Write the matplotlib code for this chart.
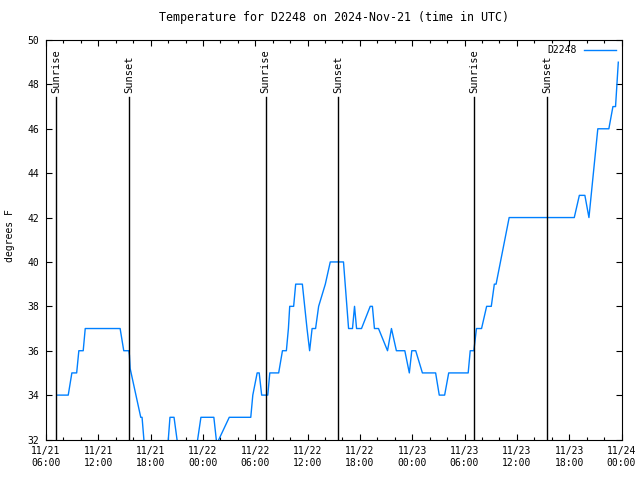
import pandas as pd
import matplotlib
matplotlib.use("Agg")
import matplotlib.pyplot as plt
import matplotlib.dates as mdates

plt.rcParams['font.family'] = ['DejaVu Sans Mono']
plt.rcParams['font.size'] = 7

# temperature readings (UTC)
times = ["11-21 07:15", "11-21 08:33", "11-21 08:58", "11-21 09:31", "11-21 09:46",
         "11-21 10:16", "11-21 10:30", "11-21 14:30", "11-21 14:55", "11-21 15:30",
         "11-21 15:34", "11-21 15:39", "11-21 16:52", "11-21 17:01", "11-21 17:26",
         "11-21 19:50", "11-21 20:13", "11-21 20:41", "11-21 21:22", "11-21 23:01",
         "11-21 23:46", "11-22 01:15", "11-22 01:35", "11-22 03:01", "11-22 05:29",
         "11-22 05:43", "11-22 06:13", "11-22 06:27", "11-22 06:44", "11-22 07:26",
         "11-22 07:40", "11-22 08:41", "11-22 09:07", "11-22 09:34", "11-22 09:48",
         "11-22 09:57", "11-22 10:24", "11-22 10:38", "11-22 11:24", "11-22 11:56",
         "11-22 12:14", "11-22 12:31", "11-22 12:55", "11-22 13:16", "11-22 14:02",
         "11-22 14:36", "11-22 16:07", "11-22 16:42", "11-22 17:09", "11-22 17:23",
         "11-22 17:37", "11-22 18:11", "11-22 19:11", "11-22 19:26", "11-22 19:40",
         "11-22 20:08", "11-22 21:10", "11-22 21:37", "11-22 22:11", "11-22 23:09",
         "11-22 23:40", "11-22 23:57", "11-23 00:24", "11-23 01:10", "11-23 02:41",
         "11-23 03:06", "11-23 03:43", "11-23 04:11", "11-23 06:25", "11-23 06:39",
         "11-23 07:04", "11-23 07:22", "11-23 07:57", "11-23 08:32", "11-23 09:04",
         "11-23 09:25", "11-23 09:37", "11-23 11:07", "11-23 18:35", "11-23 19:10",
         "11-23 19:48", "11-23 20:16", "11-23 21:17", "11-23 22:33", "11-23 23:01",
         "11-23 23:19", "11-23 23:38"]
temps = [34, 34, 35, 35, 36,
         36, 37, 37, 36, 36,
         35.8, 35.2, 33, 33, 31,
         31, 33, 33, 31, 31,
         33, 33, 31.8, 33, 33,
         34, 35, 35, 34, 34,
         35, 35, 36, 36, 37,
         38, 38, 39, 39, 37,
         36, 37, 37, 38, 39,
         40, 40, 37, 37, 38,
         37, 37, 38, 38, 37,
         37, 36, 37, 36, 36,
         35, 36, 36, 35, 35,
         34, 34, 35, 35, 36,
         36, 37, 37, 38, 38,
         39, 39, 42, 42, 43,
         43, 42, 46, 46, 47,
         47, 49]

sun_times = ["11-21 07:11", "11-21 15:33", "11-22 07:12", "11-22 15:32",
             "11-23 07:08", "11-23 15:30"]
sun_labels = ["Sunrise", "Sunset", "Sunrise", "Sunset", "Sunrise", "Sunset"]

t = pd.to_datetime(["2024-" + s for s in times])
st = pd.to_datetime(["2024-" + s for s in sun_times])

fig = plt.figure(figsize=(6.4, 4.8), dpi=100)
ax = fig.add_axes([46 / 640, 1 - 439.5 / 480, 575.5 / 640, 399.5 / 480])

ax.plot(t, temps, color='#0080ff', lw=1.0, label='D2248')

for x, lab in zip(st, sun_labels):
    ax.plot([x, x], [32, 47.43], color='black', lw=1.0)
    ax.text(x, 47.6, lab, rotation=90, ha='center', va='bottom', fontsize=7.5)

ax.set_xlim(pd.Timestamp("2024-11-21 06:00"), pd.Timestamp("2024-11-24 00:00"))
ax.set_ylim(32, 50)
ax.set_yticks(range(32, 51, 2))
ax.xaxis.set_major_locator(mdates.HourLocator(byhour=[0, 6, 12, 18]))
ax.xaxis.set_minor_locator(mdates.HourLocator(interval=2))
ax.xaxis.set_major_formatter(mdates.DateFormatter('%m/%d\n%H:%M'))
ax.tick_params(which='both', direction='in', top=True, right=True, width=0.8)
ax.tick_params(which='major', length=4.5, pad=5)
ax.tick_params(which='minor', length=2.2)
for s in ax.spines.values():
    s.set_linewidth(0.8)

ax.set_ylabel('degrees F')
ax.yaxis.set_label_coords(-31 / 575.5, 0.51)
ax.set_title('Temperature for D2248 on 2024-Nov-21 (time in UTC)', pad=14)
ax.legend(loc='upper right', frameon=False, markerfirst=False, handlelength=3.3,
          borderaxespad=0.15, fontsize=7)

fig.savefig('out.png', dpi=100)
